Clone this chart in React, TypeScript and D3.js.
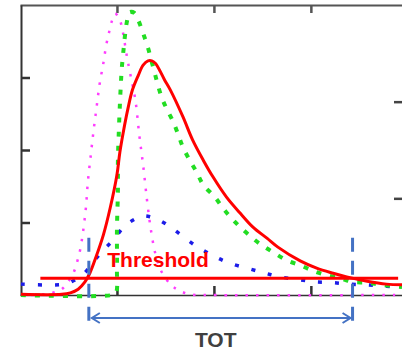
import React, { useEffect, useRef } from 'react'
import * as d3 from 'd3'

// time axis in arbitrary units (ticks every 1.0), amplitude in arbitrary units
const magentaX = [0.01, 0.26, 0.36, 0.43, 0.49, 0.55, 0.59, 0.62, 0.65, 0.68, 0.70, 0.73, 0.76, 0.79, 0.82, 0.86, 0.89, 0.92, 0.95, 0.98, 1.02, 1.06, 1.10, 1.14, 1.19, 1.23, 1.27, 1.31, 1.35, 1.40, 1.46, 1.55, 1.63, 1.75, 1.96, 3.94]
const magentaY = [0, 0.01, 0.04, 0.08, 0.17, 0.30, 0.46, 0.62, 0.87, 1.21, 1.56, 1.93, 2.28, 2.59, 2.90, 3.20, 3.45, 3.63, 3.79, 3.88, 3.83, 3.63, 3.31, 3.03, 2.69, 2.21, 1.79, 1.31, 0.90, 0.55, 0.32, 0.15, 0.07, 0.01, 0, 0]

const greenX = [0.01, 0.95, 0.99, 1.00, 1.00, 1.01, 1.01, 1.02, 1.03, 1.04, 1.05, 1.07, 1.09, 1.11, 1.13, 1.18, 1.22, 1.27, 1.32, 1.37, 1.46, 1.52, 1.58, 1.63, 1.68, 1.75, 1.82, 1.89, 2.01, 2.11, 2.23, 2.35, 2.48, 2.61, 2.75, 2.89, 3.01, 3.14, 3.30, 3.43, 3.58, 3.73, 3.94]
const greenY = [0, 0, 0.03, 0.34, 0.90, 1.45, 1.86, 2.28, 2.62, 2.90, 3.13, 3.41, 3.66, 3.82, 3.90, 3.89, 3.79, 3.61, 3.41, 3.16, 2.73, 2.55, 2.39, 2.22, 2.04, 1.86, 1.70, 1.52, 1.35, 1.17, 0.99, 0.84, 0.70, 0.59, 0.48, 0.41, 0.34, 0.28, 0.23, 0.18, 0.17, 0.14, 0.11]

const redX = [0.01, 0.43, 0.52, 0.60, 0.67, 0.72, 0.78, 0.86, 0.93, 1.00, 1.03, 1.07, 1.11, 1.16, 1.22, 1.27, 1.32, 1.36, 1.40, 1.44, 1.49, 1.55, 1.68, 1.78, 1.89, 1.99, 2.13, 2.27, 2.40, 2.55, 2.66, 2.89, 3.06, 3.23, 3.37, 3.58, 3.78, 3.94]
const redY = [0.01, 0.01, 0.03, 0.08, 0.18, 0.30, 0.51, 0.83, 1.20, 1.66, 1.97, 2.28, 2.55, 2.83, 3.03, 3.17, 3.23, 3.23, 3.19, 3.10, 2.97, 2.83, 2.46, 2.14, 1.86, 1.63, 1.35, 1.13, 0.94, 0.78, 0.66, 0.47, 0.37, 0.30, 0.25, 0.19, 0.15, 0.14]

const blueX = [0.01, 0.46, 0.57, 0.65, 0.77, 0.86, 0.95, 1.08, 1.19, 1.27, 1.34, 1.44, 1.55, 1.63, 1.80, 1.98, 2.16, 2.37, 2.53, 2.68, 2.89, 3.05, 3.23, 3.40, 3.59, 3.78, 3.94]
const blueY = [0.15, 0.15, 0.21, 0.28, 0.48, 0.62, 0.74, 0.95, 1.05, 1.09, 1.08, 1.03, 0.94, 0.86, 0.69, 0.55, 0.44, 0.36, 0.30, 0.25, 0.21, 0.18, 0.17, 0.15, 0.14, 0.12, 0.11]

const threshold = 0.23
const thresholdFrom = 0.21
const thresholdTo = 3.9
const totStart = 0.71
const totEnd = 3.43

const xTicks = [1, 2, 3]
const yTicks = [1, 2, 3]
const yRightTicks = [1, 2]

const W = 402
const H = 350

const App = () => {
  const svgRef = useRef<SVGSVGElement>(null)

  useEffect(() => {
    const svg = d3.select(svgRef.current)
    svg.selectAll('*').remove()

    const x = d3.scaleLinear().domain([0, 3.94]).range([20, 402])
    const y = d3.scaleLinear().domain([0, 4]).range([295, 5])
    const yRight = d3.scaleLinear().domain([0, 3]).range([295, 5])

    // frame / axes, ticks point inward, no labels
    const styleAxis = (g, color, width) => {
      g.selectAll('.domain').attr('stroke', color).attr('stroke-width', width)
      g.selectAll('.tick line').attr('stroke', color).attr('stroke-width', 2.5)
    }
    svg.append('g')
      .attr('transform', 'translate(0,5)')
      .call(d3.axisTop(x).tickValues(xTicks).tickSizeInner(-8).tickSizeOuter(0).tickFormat(() => ''))
      .call(g => styleAxis(g, '#555', 2))
    svg.append('g')
      .attr('transform', 'translate(0,295)')
      .call(d3.axisBottom(x).tickValues(xTicks).tickSizeInner(-9).tickSizeOuter(0).tickFormat(() => ''))
      .call(g => styleAxis(g, '#333', 1.5))
    svg.append('g')
      .attr('transform', 'translate(21,0)')
      .call(d3.axisLeft(y).tickValues(yTicks).tickSizeInner(-9).tickSizeOuter(0).tickFormat(() => ''))
      .call(g => styleAxis(g, '#333', 2))
    svg.append('g')
      .attr('transform', 'translate(404,0)')
      .call(d3.axisRight(yRight).tickValues(yRightTicks).tickSizeInner(-10).tickSizeOuter(0).tickFormat(() => ''))
      .call(g => styleAxis(g, '#444', 2))

    const line = d3.line<[number, number]>()
      .x(d => x(d[0]))
      .y(d => y(d[1]))
      .curve(d3.curveCatmullRom.alpha(0.5))

    const series = [
      { xs: blueX, ys: blueY, color: '#1c1ce8', width: 3.5, dash: '4 13' },
      { xs: magentaX, ys: magentaY, color: '#ff3cff', width: 2.5, dash: '2.5 8' },
      { xs: greenX, ys: greenY, color: '#22dd22', width: 4, dash: '5 9' },
      { xs: redX, ys: redY, color: '#ff0000', width: 3, dash: null },
    ]
    series.forEach(s => {
      svg.append('path')
        .datum(s.xs.map((v, i) => [v, s.ys[i]] as [number, number]))
        .attr('d', line)
        .attr('fill', 'none')
        .attr('stroke', s.color)
        .attr('stroke-width', s.width)
        .attr('stroke-dasharray', s.dash)
    })

    // threshold line + label
    svg.append('line')
      .attr('x1', x(thresholdFrom)).attr('x2', x(thresholdTo))
      .attr('y1', y(threshold)).attr('y2', y(threshold))
      .attr('stroke', '#ff0000').attr('stroke-width', 3)
    svg.append('text')
      .attr('x', x(0.9)).attr('y', y(threshold) - 11)
      .attr('fill', '#ff0000')
      .attr('font-family', '"Liberation Sans", Arial, sans-serif')
      .attr('font-weight', 'bold')
      .attr('font-size', 21)
      .text('Threshold')

    // TOT markers
    const blue = '#4472c4'
    const yArrow = 318
    ;[totStart, totEnd].forEach(t => {
      svg.append('line')
        .attr('x1', x(t)).attr('x2', x(t))
        .attr('y1', y(0.79)).attr('y2', 321)
        .attr('stroke', blue).attr('stroke-width', 3)
        .attr('stroke-dasharray', '14 9')
    })
    svg.append('line')
      .attr('x1', x(totStart) + 3).attr('x2', x(totEnd) - 2)
      .attr('y1', yArrow).attr('y2', yArrow)
      .attr('stroke', blue).attr('stroke-width', 2)
    const head = (tip, dir) =>
      `M${tip + dir * 8},${yArrow - 5}L${tip},${yArrow}L${tip + dir * 8},${yArrow + 5}`
    svg.append('path').attr('d', head(x(totStart) + 3, 1))
      .attr('fill', 'none').attr('stroke', blue).attr('stroke-width', 2)
    svg.append('path').attr('d', head(x(totEnd) - 2, -1))
      .attr('fill', 'none').attr('stroke', blue).attr('stroke-width', 2)

    svg.append('text')
      .attr('x', (x(totStart) + x(totEnd)) / 2 - 5).attr('y', 347)
      .attr('text-anchor', 'middle')
      .attr('fill', '#404040')
      .attr('font-family', '"Liberation Sans", Arial, sans-serif')
      .attr('font-weight', 'bold')
      .attr('font-size', 21)
      .text('TOT')
  }, [])

  return (
    <svg
      ref={svgRef}
      width={W}
      height={H}
      style={{ position: 'absolute', left: 0, top: 0, background: '#fff' }}
    />
  )
}

export default App
